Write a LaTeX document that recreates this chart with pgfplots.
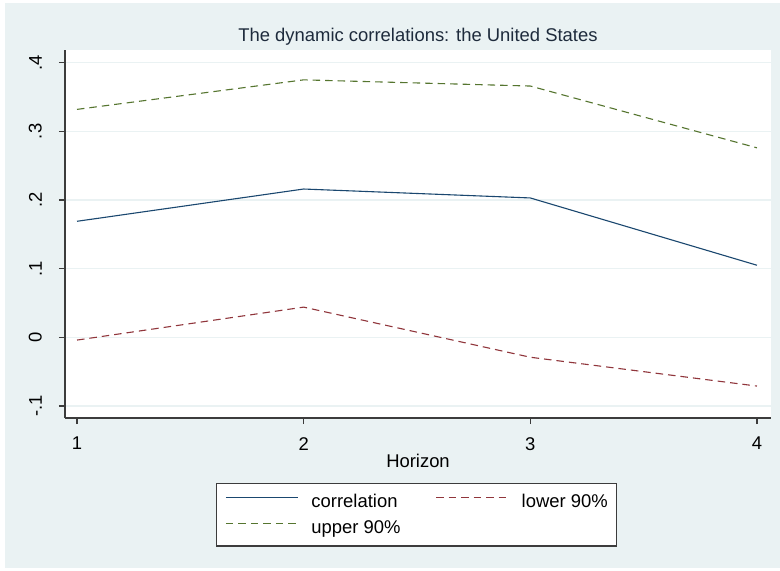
\documentclass[border=0pt]{standalone}
\usepackage{pgfplots}
\pgfplotsset{compat=1.18}
\usepackage{fontspec}
\setmainfont{Liberation Sans}
\definecolor{bg}{HTML}{EAF2F3}
\definecolor{snavy}{RGB}{26,71,111}
\definecolor{smaroon}{RGB}{144,53,59}
\definecolor{sgreen}{RGB}{85,117,47}
\definecolor{axcol}{HTML}{3C3C3C}
\definecolor{titlecol}{HTML}{1E2B3C}
\newcommand{\chfont}{\fontsize{18.5}{22}\selectfont}
\begin{document}
\begin{tikzpicture}
\fill[white] (0bp,0bp) rectangle (780bp,571bp);
\fill[bg] (5bp,3bp) rectangle (780bp,568bp);
\begin{axis}[
  at={(65bp,153bp)}, anchor=south west,
  width=706bp, height=368bp, scale only axis,
  xmin=0.947, xmax=4.062, ymin=-0.1175, ymax=0.4185,
  axis background/.style={fill=white},
  axis x line*=bottom, axis y line*=left,
  axis line style={axcol, line width=1.1bp, -},
  xtick={1,2,3,4}, ytick={-0.1,0,0.1,0.2,0.3,0.4},
  yticklabels={-.1,0,.1,.2,.3,.4},
  /pgf/number format/assume math mode=true,
  tick align=outside, major tick length=6bp,
  tick style={axcol, line width=1.1bp},
  ymajorgrids, grid style={bg, line width=1.5bp},
  font=\chfont,
  ticklabel style={font=\chfont, text=black},
  yticklabel style={rotate=90, anchor=south, inner sep=0pt},
  xticklabel style={anchor=north, inner sep=0pt},
  yticklabel shift=17bp,
  xticklabel shift=13bp,
  title={The dynamic correlations: the United States},
  title style={at={(axis description cs:0.5,1)}, anchor=south, yshift=-2bp, inner sep=0pt, text=titlecol, font=\chfont},
  xlabel={Horizon},
  xlabel style={at={(axis description cs:0.5,0)}, anchor=north, inner sep=0pt, yshift=-36bp, font=\chfont, text=black},
  legend columns=2,
  legend cell align=left,
  legend image code/.code={\draw[#1] (0bp,4.5bp) -- (72bp,4.5bp);},
  legend style={at={(axis description cs:0.498,-0.1766)}, anchor=north,
    draw=axcol, line width=1.3bp, fill=white, font=\chfont,
    inner xsep=9bp, inner ysep=11bp, row sep=11bp,
    nodes={inner sep=0pt},
    /tikz/every odd column/.append style={column sep=13bp},
    /tikz/every even column/.append style={column sep=35bp}},
]
\addplot[draw=snavy, line width=1.1bp] coordinates {(1,0.169)(2,0.216)(3,0.203)(4,0.105)};
\addlegendentry{correlation}
\addplot[draw=smaroon, line width=1.1bp, dash pattern=on 7.5bp off 5bp] coordinates {(1,-0.004)(2,0.044)(3,-0.029)(4,-0.071)};
\addlegendentry{lower 90\%}
\addplot[draw=sgreen, line width=1.1bp, dash pattern=on 7.5bp off 5bp] coordinates {(1,0.332)(2,0.375)(3,0.366)(4,0.276)};
\addlegendentry{upper 90\%}
\end{axis}
\end{tikzpicture}
\end{document}
